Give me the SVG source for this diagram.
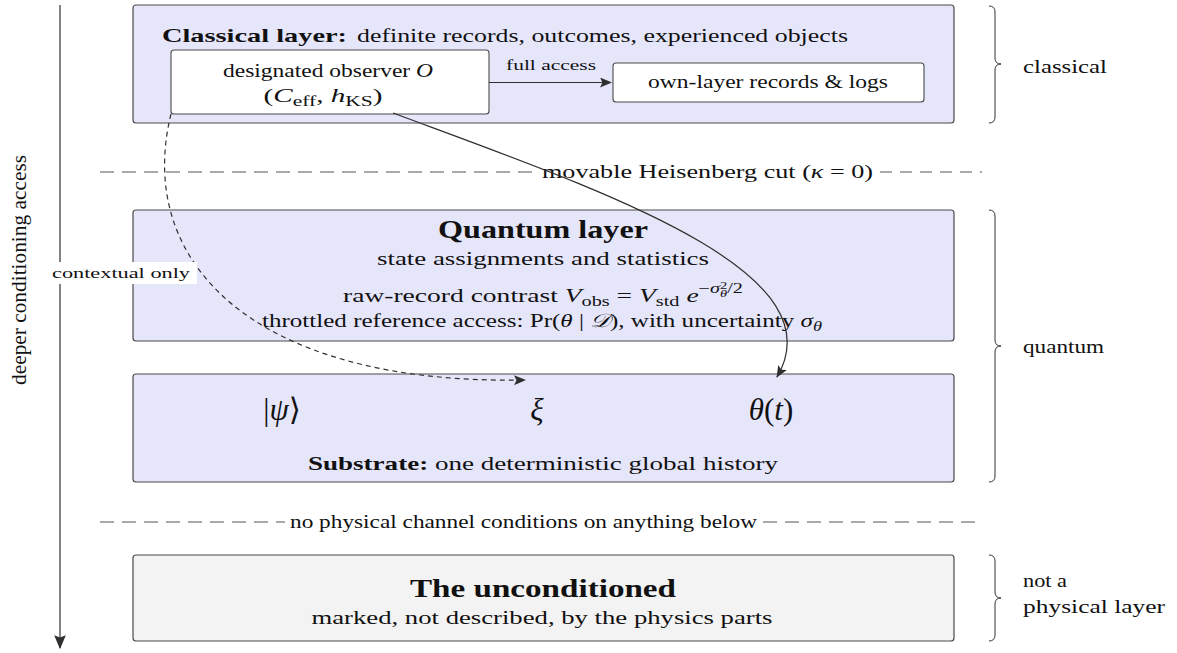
<svg xmlns="http://www.w3.org/2000/svg" width="1177" height="653" viewBox="0 0 1177 653">
<style>
text{font-family:"Liberation Serif","DejaVu Serif",serif;fill:#111;}
.layer{fill:#e6e6fb;stroke:#4a4a4a;stroke-width:1.2;}
.uncond{fill:#f3f3f3;stroke:#4a4a4a;stroke-width:1.2;}
.inner{fill:#fff;stroke:#4a4a4a;stroke-width:1.1;}
.n{font-size:19px;}
.s{font-size:15px;}
.t{font-size:14px;}
.big{font-size:26px;font-weight:bold;}
.m{font-size:31px;}
.i{font-style:italic;}
.b{font-weight:bold;}
.cut{stroke:#555;stroke-width:1.1;stroke-dasharray:14 8;fill:none;}
.brace{fill:none;stroke:#333;stroke-width:1;}
.conn{fill:none;stroke:#2f2f2f;stroke-width:1.2;}
</style>
<defs>
<marker id="ah" viewBox="0 0 12 10" refX="11" refY="5" markerWidth="12" markerHeight="10" markerUnits="userSpaceOnUse" orient="auto">
<path d="M0,0 L12,5 L0,10 L2.5,5 z" fill="#2f2f2f"/>
</marker>
<marker id="ahBig" viewBox="0 0 12 10" refX="11" refY="5" markerWidth="14" markerHeight="12" markerUnits="userSpaceOnUse" orient="auto">
<path d="M0,0 L12,5 L0,10 L2,5 z" fill="#2f2f2f"/>
</marker>
</defs>

<g id="axis">
<line x1="60" y1="5" x2="60" y2="648" class="conn" marker-end="url(#ahBig)"/>
<text x="26" y="270" text-anchor="middle" font-size="22" transform="rotate(-90 26 270)" textLength="230" lengthAdjust="spacingAndGlyphs">deeper conditioning access</text>
</g>

<g id="classical-layer">
<rect class="layer" x="133" y="5" width="821" height="118" rx="3"/>
<text class="n b" x="162" y="42" textLength="185" lengthAdjust="spacingAndGlyphs">Classical layer:</text>
<text class="n" x="357" y="42" textLength="491" lengthAdjust="spacingAndGlyphs">definite records, outcomes, experienced objects</text>
</g>

<g id="observer">
<rect class="inner" x="171" y="50" width="318" height="64" rx="3"/>
<text class="n" x="328" y="77" text-anchor="middle" textLength="210" lengthAdjust="spacingAndGlyphs">designated observer <tspan class="i">O</tspan></text>
<text class="n" x="323" y="102" text-anchor="middle" textLength="119" lengthAdjust="spacingAndGlyphs">(<tspan class="i">C</tspan><tspan font-size="14" dy="4">eff</tspan><tspan dy="-4">, </tspan><tspan class="i">h</tspan><tspan font-size="14" dy="4">KS</tspan><tspan dy="-4">)</tspan></text>
</g>

<g id="records">
<rect class="inner" x="613" y="63" width="311" height="39" rx="3"/>
<text class="n" x="768" y="88" text-anchor="middle" textLength="240" lengthAdjust="spacingAndGlyphs">own-layer records &amp; logs</text>
</g>

<g id="cut-heisenberg">
<line class="cut" x1="100" y1="172" x2="532" y2="172"/>
<text class="n" x="542" y="178" textLength="331" lengthAdjust="spacingAndGlyphs">movable Heisenberg cut (<tspan class="i">κ</tspan> = 0)</text>
<line class="cut" x1="880" y1="172" x2="982" y2="172" style="stroke-dasharray:12 8"/>
</g>

<g id="quantum-layer">
<rect class="layer" x="133" y="210" width="821" height="131" rx="3"/>
<text class="big" x="543" y="238" text-anchor="middle" textLength="210" lengthAdjust="spacingAndGlyphs">Quantum layer</text>
<text class="n" x="543" y="265" text-anchor="middle" textLength="332" lengthAdjust="spacingAndGlyphs">state assignments and statistics</text>
<text class="n" x="343" y="302" textLength="400" lengthAdjust="spacingAndGlyphs">raw-record contrast <tspan class="i">V</tspan><tspan font-size="14" dy="4">obs</tspan><tspan dy="-4"> = </tspan><tspan class="i">V</tspan><tspan font-size="14" dy="4">std</tspan><tspan dy="-4"> </tspan><tspan class="i">e</tspan><tspan font-size="14" dy="-9">−</tspan><tspan font-size="14" class="i">σ</tspan><tspan font-size="10" dy="-4">2</tspan><tspan font-size="10" class="i" dx="-5" dy="8">θ</tspan><tspan font-size="14" dy="-4">/2</tspan></text>
<text class="n" x="542" y="327" text-anchor="middle" textLength="560" lengthAdjust="spacingAndGlyphs">throttled reference access: Pr(<tspan class="i">θ</tspan> | <tspan class="i">𝒟</tspan>), with uncertainty <tspan class="i">σ</tspan><tspan font-size="14" class="i" dy="4">θ</tspan></text>
</g>

<g id="substrate">
<rect class="layer" x="133" y="374" width="821" height="108" rx="3"/>
<text class="m" x="282" y="420" text-anchor="middle">|<tspan class="i">ψ</tspan>⟩</text>
<text class="m i" x="537" y="420" text-anchor="middle">ξ</text>
<text class="m" x="771" y="420" text-anchor="middle"><tspan class="i">θ</tspan>(<tspan class="i">t</tspan>)</text>
<text class="n" x="308" y="470" textLength="470" lengthAdjust="spacingAndGlyphs"><tspan class="b">Substrate:</tspan> one deterministic global history</text>
</g>

<g id="cut-physical">
<line class="cut" x1="100" y1="522" x2="285" y2="522"/>
<text class="n" x="290" y="528" textLength="467" lengthAdjust="spacingAndGlyphs">no physical channel conditions on anything below</text>
<line class="cut" x1="763" y1="522" x2="982" y2="522"/>
</g>

<g id="unconditioned">
<rect class="uncond" x="133" y="555" width="821" height="86" rx="3"/>
<text class="big" x="543" y="597" text-anchor="middle" textLength="266" lengthAdjust="spacingAndGlyphs">The unconditioned</text>
<text class="n" x="542" y="624" text-anchor="middle" textLength="461" lengthAdjust="spacingAndGlyphs">marked, not described, by the physics parts</text>
</g>

<g id="brace-classical">
<path class="brace" d="M989,6 Q995,6 995,12 L995,58 Q995,64 1001,64 Q995,64 995,70 L995,117 Q995,123 989,123"/>
<text class="n" x="1023" y="73" textLength="84" lengthAdjust="spacingAndGlyphs">classical</text>
</g>
<g id="brace-quantum">
<path class="brace" d="M989,210 Q995,210 995,216 L995,340 Q995,346 1001,346 Q995,346 995,352 L995,476 Q995,482 989,482"/>
<text class="n" x="1023" y="353" textLength="81" lengthAdjust="spacingAndGlyphs">quantum</text>
</g>
<g id="brace-unconditioned">
<path class="brace" d="M989,555 Q995,555 995,561 L995,592 Q995,598 1001,598 Q995,598 995,604 L995,635 Q995,641 989,641"/>
<text class="n" x="1023" y="587" textLength="44" lengthAdjust="spacingAndGlyphs">not a</text>
<text class="n" x="1023" y="613" textLength="142" lengthAdjust="spacingAndGlyphs">physical layer</text>
</g>

<g id="connectors">
<line class="conn" x1="489" y1="82.5" x2="611" y2="82.5" marker-end="url(#ah)"/>
<text class="s" x="551" y="70" text-anchor="middle" textLength="90" lengthAdjust="spacingAndGlyphs">full access</text>
<path class="conn" d="M393,113 C600,190 840,270 777,377" marker-end="url(#ah)"/>
<path class="conn" d="M171,114 C135,260 250,385 525,380" style="stroke-dasharray:5 4" marker-end="url(#ah)"/>
<rect x="45" y="262" width="152" height="22" fill="#fff"/>
<text class="t" x="121" y="278" text-anchor="middle" textLength="138" lengthAdjust="spacingAndGlyphs">contextual only</text>
</g>
</svg>
